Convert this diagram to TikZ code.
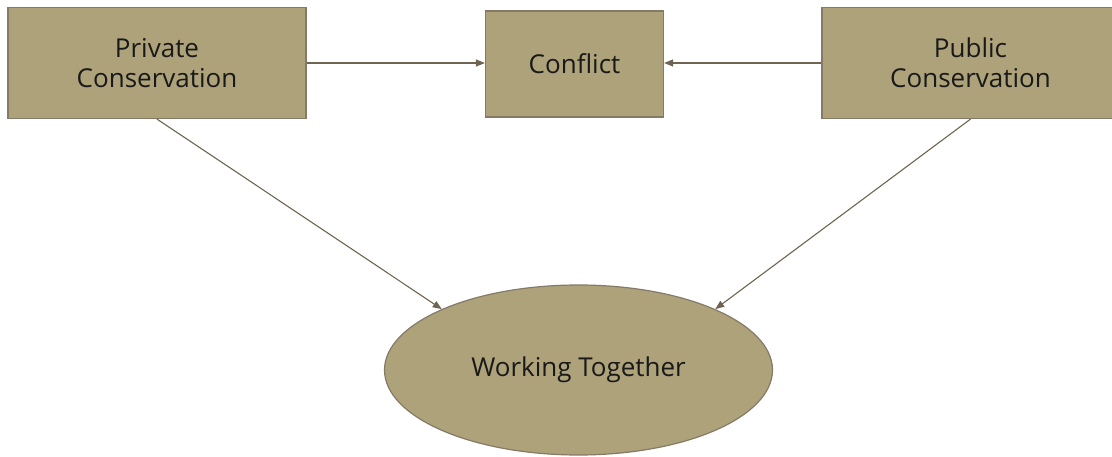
\documentclass[tikz,border=0pt]{standalone}
\usepackage{fontspec}
\setmainfont{Open Sans}
\usetikzlibrary{shapes.geometric,arrows.meta}
\definecolor{boxfill}{HTML}{ADA27A}
\definecolor{boxline}{HTML}{857A66}
\definecolor{arrowc}{HTML}{6E6450}
\begin{document}
\begin{tikzpicture}[x=1pt,y=-1pt,
  box/.style={rectangle,draw=boxline,fill=boxfill,line width=1.2pt,inner sep=0pt,align=center,font=\fontsize{26}{30}\selectfont,text=black!90},
  oval/.style={ellipse,draw=boxline,fill=boxfill,line width=1.2pt,inner sep=0pt,font=\fontsize{26}{30}\selectfont,text=black!90},
  conn/.style={draw=arrowc,line width=1.1pt,-{Triangle[length=9pt,width=7pt]}}]
\useasboundingbox (0,0) rectangle (1112,457);
\begin{scope}
\clip (0,0) rectangle (1112,457);
\node[box,minimum width=298pt,minimum height=111pt] (priv) at (157,63) {Private\\Conservation};
\node[box,minimum width=178pt,minimum height=106pt] (conf) at (574.5,64) {Conflict};
\node[box,minimum width=297pt,minimum height=111pt] (pub) at (970.5,63) {Public\\Conservation};
\node[oval,minimum width=388pt,minimum height=170pt] (work) at (578.5,370) {Working Together};
\draw[conn] (priv.east |- 0,63) -- (conf.west |- 0,63);
\draw[conn] (pub.west |- 0,63) -- (conf.east |- 0,63);
\draw[conn] (priv.south) -- (work.156);
\draw[conn] (pub.south) -- (work.24);
\end{scope}
\end{tikzpicture}
\end{document}
